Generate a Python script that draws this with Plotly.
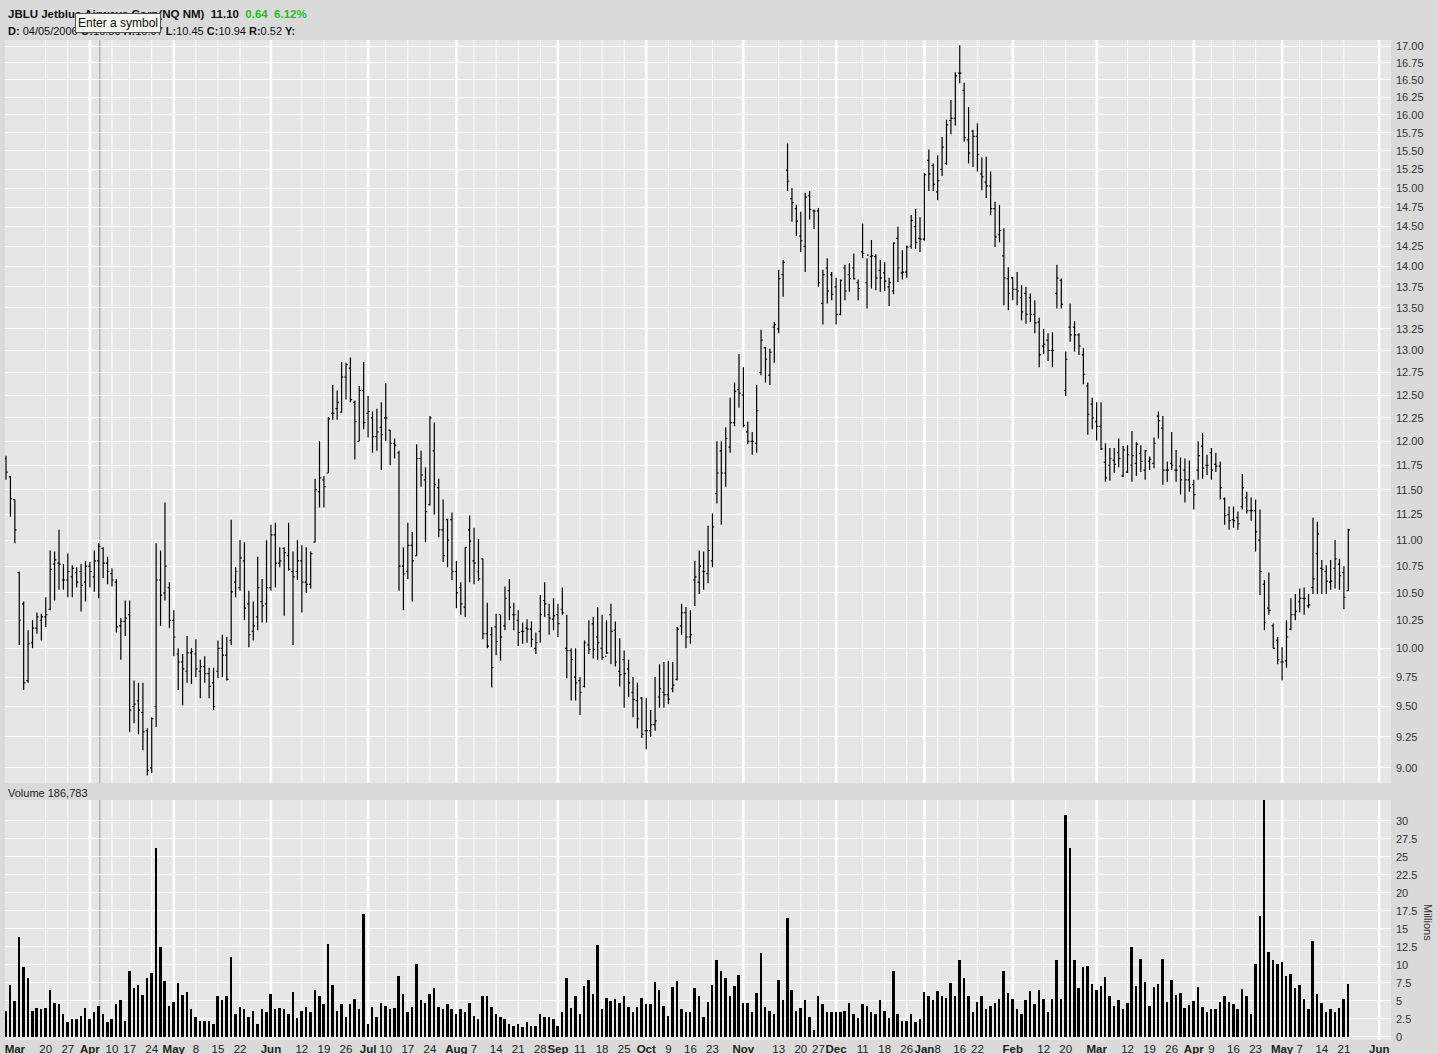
import pandas as pd
import plotly.graph_objects as go

# ---------------- data ----------------
holidays = ["2006-04-14", "2006-05-29", "2006-07-04", "2006-09-04", "2006-11-23",
            "2006-12-25", "2007-01-01", "2007-01-02", "2007-01-15", "2007-02-19",
            "2007-04-06", "2007-05-28"]

open_ = [
    11.82, 11.63, 11.40, 10.69, 10.40, 9.72, 10.05, 10.18, 10.25, 10.28,
    10.35, 10.77, 10.78, 10.62, 10.62, 10.65, 10.69, 10.70, 10.60, 10.75,
    10.65, 10.80, 10.92, 10.78, 10.68, 10.60, 10.20, 10.24, 10.30, 9.50,
    9.55, 9.45, 9.30, 9.00, 9.50, 10.62, 10.50, 10.55, 10.25, 9.95,
    9.88, 9.80, 9.96, 9.95, 9.80, 9.84, 9.78, 9.70, 9.80, 10.00,
    9.94, 10.07, 10.60, 10.55, 10.80, 10.40, 10.15, 10.28, 10.42, 10.40,
    10.55, 11.05, 10.78, 10.92, 10.85, 10.70, 10.70, 10.80, 10.60, 10.58,
    10.98, 11.48, 11.60, 11.67, 12.30, 12.35, 12.31, 12.70, 12.80, 12.42,
    12.00, 12.55, 12.30, 12.25, 12.05, 12.15, 12.25, 12.12, 11.98, 11.88,
    10.75, 10.70, 10.95, 10.85, 11.82, 11.60, 11.35, 11.90, 11.52, 11.10,
    11.20, 11.20, 10.70, 10.55, 10.37, 11.10, 10.80, 10.70, 10.82, 10.13,
    10.12, 10.19, 10.30, 10.20, 10.52, 10.30, 10.25, 10.15, 10.18, 10.17,
    10.00, 10.15, 10.43, 10.30, 10.26, 10.30, 10.35, 10.00, 9.98, 9.75,
    9.72, 9.67, 10.03, 10.22, 10.10, 10.00, 9.93, 10.30, 10.16, 9.80,
    9.90, 9.82, 9.62, 9.55, 9.57, 9.30, 9.30, 9.35, 9.58, 9.62,
    9.60, 9.65, 9.73, 10.20, 10.32, 10.10, 10.62, 10.60, 10.70, 10.68,
    10.80, 11.46, 11.90, 11.67, 11.94, 12.20, 12.56, 12.50, 12.10, 12.00,
    11.98, 12.75, 13.03, 12.72, 13.27, 13.25, 13.90, 15.24, 14.86, 14.73,
    14.38, 14.25, 14.90, 14.70, 14.70, 13.55, 13.98, 13.90, 13.75, 13.42,
    13.98, 13.90, 13.98, 13.80, 14.18, 13.80, 14.12, 14.12, 13.95, 13.92,
    13.75, 13.70, 14.35, 13.92, 13.93, 14.25, 14.50, 14.35, 14.34, 15.37,
    15.30, 14.95, 15.25, 15.33, 15.92, 15.95, 16.60, 16.35, 15.65, 15.77,
    15.70, 15.19, 15.08, 15.03, 14.73, 14.40, 14.13, 13.85, 13.86, 13.72,
    13.62, 13.67, 13.62, 13.42, 13.33, 13.05, 13.12, 13.00, 13.67, 13.83,
    12.55, 13.27, 13.27, 13.18, 12.95, 12.60, 12.40, 12.21, 12.16, 11.78,
    11.75, 11.80, 11.88, 11.64, 11.68, 11.75, 11.77, 11.87, 11.70, 11.79,
    11.77, 12.27, 12.14, 11.70, 11.77, 11.70, 11.74, 11.70, 11.60, 11.55,
    11.70, 11.95, 11.75, 11.88, 11.76, 11.74, 11.41, 11.25, 11.20, 11.22,
    11.33, 11.42, 11.29, 11.29, 11.00, 10.58, 10.36, 10.20, 10.07, 9.88,
    9.89, 10.17, 10.30, 10.42, 10.45, 10.38, 10.55, 10.87, 10.73, 10.70,
    10.60, 10.73, 10.77, 10.69, 10.52]

high = [
    11.85, 11.64, 11.40, 10.70, 10.42, 10.16, 10.25, 10.32, 10.31, 10.46,
    10.90, 10.89, 11.10, 10.77, 10.87, 10.76, 10.74, 10.77, 10.80, 10.79,
    10.90, 10.97, 10.93, 10.84, 10.73, 10.63, 10.27, 10.43, 10.43, 9.72,
    9.70, 9.70, 9.32, 9.41, 10.97, 10.90, 11.37, 10.60, 10.34, 10.00,
    9.95, 10.11, 10.00, 10.08, 9.90, 9.93, 9.83, 9.83, 10.07, 10.12,
    10.10, 11.20, 10.74, 11.00, 10.98, 10.52, 10.42, 10.84, 10.63, 11.00,
    11.15, 11.17, 10.93, 10.93, 11.17, 10.89, 11.00, 10.95, 10.93, 10.89,
    11.61, 12.00, 11.64, 12.26, 12.61, 12.55, 12.87, 12.86, 12.92, 12.44,
    12.60, 12.87, 12.49, 12.32, 12.35, 12.42, 12.63, 12.12, 12.03, 11.90,
    10.93, 11.17, 11.08, 11.97, 11.90, 11.73, 12.27, 12.20, 11.61, 11.40,
    11.21, 11.27, 10.80, 10.60, 10.93, 11.24, 11.12, 11.01, 10.82, 10.41,
    10.19, 10.31, 10.30, 10.56, 10.63, 10.41, 10.34, 10.23, 10.26, 10.24,
    10.14, 10.48, 10.60, 10.40, 10.45, 10.40, 10.55, 10.30, 10.00, 10.00,
    9.75, 10.07, 10.25, 10.28, 10.37, 10.30, 10.25, 10.40, 10.24, 10.09,
    9.98, 9.90, 9.75, 9.70, 9.58, 9.57, 9.47, 9.75, 9.86, 9.88,
    9.89, 9.88, 10.19, 10.40, 10.37, 10.34, 10.80, 10.90, 10.89, 11.14,
    11.26, 12.00, 12.00, 12.15, 12.47, 12.64, 12.96, 12.81, 12.21, 12.10,
    12.61, 13.24, 13.04, 13.02, 13.33, 13.96, 14.08, 15.60, 15.00, 14.78,
    14.69, 14.94, 14.96, 14.72, 14.74, 13.96, 14.10, 13.93, 13.86, 13.84,
    14.02, 14.04, 14.16, 13.84, 14.54, 14.10, 14.33, 14.15, 14.08, 14.05,
    13.86, 14.30, 14.50, 14.20, 14.26, 14.65, 14.73, 14.62, 15.20, 15.52,
    15.33, 15.44, 15.69, 15.93, 16.21, 16.61, 17.01, 16.46, 16.11, 15.79,
    15.88, 15.41, 15.42, 15.22, 14.82, 14.78, 14.48, 13.99, 13.87, 13.93,
    13.77, 13.75, 13.67, 13.59, 13.38, 13.25, 13.20, 13.21, 14.02, 13.85,
    12.99, 13.55, 13.34, 13.20, 13.03, 12.64, 12.47, 12.42, 12.42, 11.98,
    11.93, 11.93, 12.03, 11.95, 11.96, 12.11, 11.99, 11.96, 11.91, 11.84,
    12.04, 12.32, 12.27, 11.79, 12.10, 11.91, 11.83, 11.82, 11.80, 11.60,
    12.00, 12.09, 11.86, 11.93, 11.88, 11.79, 11.42, 11.33, 11.33, 11.28,
    11.66, 11.48, 11.42, 11.40, 11.30, 10.62, 10.69, 10.22, 10.10, 10.01,
    10.25, 10.45, 10.49, 10.54, 10.55, 10.49, 11.22, 11.18, 10.81, 10.76,
    10.81, 11.00, 10.82, 10.75, 11.11]

low = [
    11.60, 11.23, 10.97, 10.03, 9.64, 9.70, 10.00, 10.13, 10.07, 10.19,
    10.34, 10.43, 10.53, 10.53, 10.46, 10.46, 10.55, 10.33, 10.42, 10.55,
    10.51, 10.45, 10.64, 10.58, 10.56, 10.14, 9.90, 10.11, 9.29, 9.36,
    9.27, 9.14, 8.94, 8.96, 9.33, 10.20, 10.43, 10.18, 9.93, 9.64,
    9.51, 9.70, 9.69, 9.75, 9.57, 9.70, 9.57, 9.47, 9.74, 9.75,
    9.72, 10.03, 10.46, 10.52, 10.25, 10.01, 10.07, 10.16, 10.23, 10.23,
    10.52, 10.55, 10.74, 10.29, 10.71, 10.03, 10.62, 10.32, 10.50, 10.54,
    10.98, 11.32, 11.32, 11.67, 12.23, 12.23, 12.31, 12.45, 12.42, 11.81,
    12.00, 12.13, 12.04, 11.88, 11.90, 11.70, 12.00, 11.75, 11.82, 10.52,
    10.34, 10.63, 10.42, 10.85, 11.53, 10.98, 11.34, 11.25, 11.03, 10.79,
    10.74, 10.62, 10.36, 10.30, 10.28, 10.60, 10.58, 10.61, 10.08, 10.00,
    9.66, 9.94, 9.89, 10.16, 10.25, 10.16, 10.02, 10.04, 10.05, 10.01,
    9.95, 10.05, 10.28, 10.12, 10.16, 10.10, 10.30, 9.74, 9.55, 9.55,
    9.43, 9.66, 9.95, 9.91, 9.90, 9.90, 9.95, 9.86, 9.84, 9.67,
    9.49, 9.58, 9.41, 9.32, 9.24, 9.15, 9.25, 9.30, 9.49, 9.49,
    9.52, 9.62, 9.72, 10.12, 10.00, 10.04, 10.38, 10.49, 10.53, 10.59,
    10.74, 11.36, 11.15, 11.53, 11.88, 12.16, 12.36, 12.15, 11.97, 11.86,
    11.88, 12.72, 12.64, 12.61, 12.86, 13.20, 13.63, 14.96, 14.56, 14.38,
    14.18, 13.93, 14.59, 14.47, 13.75, 13.30, 13.55, 13.59, 13.30, 13.41,
    13.59, 13.69, 13.84, 13.59, 14.10, 13.49, 13.73, 13.71, 13.69, 13.70,
    13.52, 13.66, 13.81, 13.84, 13.86, 14.22, 14.22, 14.18, 14.32, 14.96,
    14.96, 14.84, 15.16, 15.31, 15.73, 15.85, 16.45, 15.63, 15.33, 15.28,
    15.22, 14.97, 14.87, 14.65, 14.24, 14.30, 13.53, 13.47, 13.59, 13.53,
    13.35, 13.31, 13.33, 13.20, 12.81, 12.96, 12.88, 12.81, 13.49, 13.49,
    12.49, 13.10, 12.99, 12.95, 12.62, 12.07, 12.13, 12.01, 11.91, 11.58,
    11.59, 11.67, 11.73, 11.63, 11.67, 11.58, 11.64, 11.68, 11.60, 11.70,
    11.72, 12.03, 11.55, 11.58, 11.70, 11.58, 11.45, 11.37, 11.48, 11.30,
    11.60, 11.61, 11.65, 11.60, 11.68, 11.40, 11.15, 11.10, 11.12, 11.10,
    11.30, 11.26, 11.19, 10.89, 10.48, 10.16, 10.30, 10.00, 9.86, 9.72,
    9.83, 10.16, 10.25, 10.32, 10.30, 10.36, 10.49, 10.49, 10.49, 10.49,
    10.53, 10.54, 10.53, 10.35, 10.52]

close = [
    11.68, 11.41, 11.10, 10.25, 9.70, 10.04, 10.18, 10.28, 10.28, 10.30,
    10.72, 10.81, 10.77, 10.62, 10.70, 10.73, 10.60, 10.57, 10.75, 10.70,
    10.80, 10.94, 10.78, 10.70, 10.62, 10.19, 10.24, 10.27, 9.47, 9.52,
    9.47, 9.29, 8.98, 9.40, 10.62, 10.48, 10.75, 10.25, 10.10, 9.88,
    9.82, 9.96, 9.97, 9.82, 9.84, 9.78, 9.67, 9.50, 10.00, 9.94,
    9.73, 10.51, 10.70, 10.83, 10.36, 10.12, 10.20, 10.55, 10.38, 10.55,
    11.05, 10.78, 10.80, 10.88, 10.72, 10.65, 10.80, 10.60, 10.58, 10.87,
    11.50, 11.62, 11.53, 12.24, 12.30, 12.42, 12.70, 12.84, 12.45, 12.21,
    12.55, 12.20, 12.32, 12.05, 12.10, 12.07, 12.25, 11.98, 11.96, 10.75,
    10.68, 10.95, 10.80, 11.82, 11.65, 11.28, 12.25, 11.55, 11.10, 10.85,
    11.00, 10.70, 10.50, 10.40, 10.93, 10.99, 10.78, 10.63, 10.13, 10.02,
    9.83, 10.06, 10.10, 10.45, 10.37, 10.30, 10.14, 10.15, 10.17, 10.08,
    10.05, 10.30, 10.40, 10.27, 10.29, 10.22, 10.32, 9.98, 9.90, 9.70,
    9.62, 10.05, 9.99, 9.99, 10.05, 9.92, 9.96, 10.15, 9.88, 9.77,
    9.78, 9.70, 9.56, 9.40, 9.27, 9.30, 9.35, 9.38, 9.65, 9.60,
    9.56, 9.68, 10.17, 10.32, 10.10, 10.12, 10.65, 10.75, 10.70, 10.90,
    11.13, 11.67, 11.67, 12.03, 12.20, 12.54, 12.52, 12.17, 12.00, 12.00,
    12.33, 13.12, 12.90, 12.98, 13.30, 13.85, 14.05, 15.09, 14.81, 14.57,
    14.32, 14.88, 14.72, 14.70, 13.80, 13.90, 13.70, 13.66, 13.42, 13.83,
    13.70, 13.85, 13.85, 13.73, 14.16, 14.14, 14.13, 13.86, 13.86, 13.82,
    13.80, 14.29, 13.98, 13.93, 14.24, 14.58, 14.30, 14.34, 15.18, 15.19,
    15.05, 15.10, 15.55, 15.86, 15.95, 16.56, 16.60, 15.68, 15.47, 15.70,
    15.45, 15.15, 15.03, 14.73, 14.37, 14.45, 13.86, 13.67, 13.72, 13.70,
    13.45, 13.42, 13.42, 13.32, 12.95, 13.07, 13.00, 13.00, 13.86, 13.54,
    12.90, 13.18, 13.18, 13.05, 12.73, 12.29, 12.25, 12.16, 11.92, 11.62,
    11.82, 11.76, 11.82, 11.91, 11.86, 11.85, 11.97, 11.79, 11.90, 11.81,
    11.98, 12.22, 11.70, 11.70, 11.75, 11.70, 11.60, 11.60, 11.52, 11.45,
    11.85, 11.72, 11.75, 11.70, 11.74, 11.52, 11.24, 11.19, 11.19, 11.16,
    11.52, 11.29, 11.29, 11.08, 10.70, 10.23, 10.34, 10.00, 9.90, 9.88,
    10.10, 10.30, 10.33, 10.45, 10.45, 10.39, 10.63, 11.06, 10.72, 10.61,
    10.61, 10.82, 10.66, 10.46, 11.10]

volume_m = [
    3.6, 7.2, 5.0, 13.8, 9.7, 8.1, 3.6, 4.0, 3.9, 4.0,
    6.5, 4.7, 4.5, 3.1, 2.0, 2.5, 2.4, 2.9, 4.0, 2.4,
    3.5, 4.3, 3.1, 2.0, 2.4, 4.6, 5.1, 2.2, 9.2, 6.8,
    7.2, 5.8, 8.1, 8.9, 26.2, 12.5, 7.8, 4.3, 4.8, 7.5,
    5.8, 6.2, 3.8, 2.8, 2.2, 2.2, 2.2, 1.8, 5.7, 5.1,
    5.7, 11.1, 3.2, 4.2, 3.8, 2.8, 3.6, 1.8, 3.9, 3.4,
    6.0, 3.9, 4.0, 3.9, 3.1, 6.2, 2.6, 3.6, 4.2, 3.4,
    6.5, 5.7, 4.6, 12.9, 7.2, 3.6, 4.6, 2.8, 4.5, 5.2,
    3.8, 17.1, 1.8, 4.2, 2.8, 4.7, 4.3, 3.8, 4.0, 8.5,
    6.0, 3.5, 4.2, 10.1, 5.1, 4.7, 6.0, 6.8, 4.2, 3.8,
    4.5, 3.9, 3.1, 3.9, 3.4, 4.7, 2.9, 2.5, 5.6, 5.6,
    4.2, 3.1, 2.8, 2.5, 1.8, 1.5, 1.8, 1.3, 2.0, 1.5,
    1.5, 3.1, 2.8, 2.8, 2.4, 1.5, 3.4, 8.1, 4.0, 5.6,
    3.2, 7.1, 7.9, 6.0, 12.8, 3.8, 5.4, 5.0, 5.3, 4.7,
    5.7, 4.2, 3.5, 4.2, 5.4, 4.6, 4.6, 7.6, 6.5, 4.3,
    2.9, 6.9, 7.8, 3.8, 3.5, 3.4, 6.8, 5.6, 2.8, 4.8,
    7.2, 10.6, 9.1, 8.1, 5.6, 7.1, 8.6, 4.7, 4.7, 3.5,
    6.1, 11.7, 4.2, 3.6, 3.1, 7.9, 5.1, 16.5, 6.5, 3.6,
    4.0, 5.1, 2.8, 1.0, 5.7, 4.6, 3.4, 3.5, 3.5, 3.4,
    3.6, 4.7, 3.1, 2.6, 4.5, 4.3, 3.5, 3.1, 5.1, 3.6,
    2.6, 9.2, 3.1, 2.2, 2.2, 3.2, 2.0, 2.5, 6.2, 5.7,
    5.1, 6.4, 5.7, 5.4, 7.5, 5.7, 10.6, 8.1, 5.6, 3.4,
    4.8, 5.6, 3.8, 4.3, 4.7, 5.3, 9.2, 6.1, 5.3, 3.9,
    3.1, 5.1, 6.4, 4.6, 6.5, 5.3, 3.5, 5.3, 10.7, 5.3,
    30.8, 26.3, 10.7, 6.8, 9.7, 9.9, 7.4, 6.5, 7.1, 8.3,
    5.7, 4.3, 5.1, 3.8, 4.7, 12.5, 7.1, 10.8, 7.6, 4.3,
    6.9, 7.3, 10.8, 4.8, 7.9, 5.8, 6.1, 4.0, 4.4, 5.0,
    6.9, 4.2, 3.4, 3.8, 3.8, 4.8, 5.7, 4.8, 4.6, 3.9,
    6.7, 5.7, 3.1, 10.1, 16.8, 33.0, 11.8, 10.7, 10.1, 10.4,
    8.5, 8.7, 6.8, 7.2, 5.3, 3.9, 13.3, 6.0, 4.7, 3.5,
    3.8, 3.4, 4.0, 5.3, 7.3]

week_ticks = [("2006-03-20", "20"), ("2006-03-27", "27"), ("2006-04-10", "10"),
              ("2006-04-17", "17"), ("2006-04-24", "24"), ("2006-05-08", "8"),
              ("2006-05-15", "15"), ("2006-05-22", "22"), ("2006-06-12", "12"),
              ("2006-06-19", "19"), ("2006-06-26", "26"), ("2006-07-10", "10"),
              ("2006-07-17", "17"), ("2006-07-24", "24"), ("2006-08-07", "7"),
              ("2006-08-14", "14"), ("2006-08-21", "21"), ("2006-08-28", "28"),
              ("2006-09-11", "11"), ("2006-09-18", "18"), ("2006-09-25", "25"),
              ("2006-10-09", "9"), ("2006-10-16", "16"), ("2006-10-23", "23"),
              ("2006-11-13", "13"), ("2006-11-20", "20"), ("2006-11-27", "27"),
              ("2006-12-11", "11"), ("2006-12-18", "18"), ("2006-12-26", "26"),
              ("2007-01-08", "8"), ("2007-01-16", "16"), ("2007-01-22", "22"),
              ("2007-02-12", "12"), ("2007-02-20", "20"), ("2007-03-12", "12"),
              ("2007-03-19", "19"), ("2007-03-26", "26"), ("2007-04-09", "9"),
              ("2007-04-16", "16"), ("2007-04-23", "23"), ("2007-05-07", "7"),
              ("2007-05-14", "14"), ("2007-05-21", "21")]
month_ticks = [("2006-04-03", "Apr"), ("2006-05-01", "May"), ("2006-06-01", "Jun"),
               ("2006-07-03", "Jul"), ("2006-08-01", "Aug"), ("2006-09-01", "Sep"),
               ("2006-10-02", "Oct"), ("2006-11-01", "Nov"), ("2006-12-01", "Dec"),
               ("2007-01-03", "Jan"), ("2007-02-01", "Feb"), ("2007-03-01", "Mar"),
               ("2007-04-02", "Apr"), ("2007-05-01", "May"), ("2007-06-01", "Jun")]
first_label = ("2006-03-09", "Mar")

price_ticks = [9.00 + 0.25 * k for k in range(33)]
volume_ticks = [0, 2.5, 5, 7.5, 10, 12.5, 15, 17.5, 20, 22.5, 25, 27.5, 30]
volume_tick_text = ["0", "2.5", "5", "7.5", "10", "12.5", "15", "17.5", "20",
                    "22.5", "25", "27.5", "30"]

# ---------------- calendar (trading-day positions) ----------------
bdays = pd.bdate_range("2006-03-07", "2007-06-08")
all_dates = [d.strftime("%Y-%m-%d") for d in bdays if d.strftime("%Y-%m-%d") not in holidays]
pos = {d: i for i, d in enumerate(all_dates)}
n = min(len(open_), len(high), len(low), len(close))
idx = list(range(n))
trade_dates = all_dates[:n]
nv = min(n, len(volume_m))

W, H = 1438, 1054
def px_x(p):
    return p / W
def px_y(p):
    return (H - p) / H

price_dom = [px_y(783), px_y(40)]
vol_dom = [px_y(1040), px_y(800)]
x_dom = [px_x(5), px_x(1391)]
xr = [-0.23, 313.67]

fig = go.Figure()
fig.add_trace(go.Ohlc(
    x=idx, open=open_[:n], high=high[:n], low=low[:n], close=close[:n],
    increasing=dict(line=dict(color="black", width=1.2)),
    decreasing=dict(line=dict(color="black", width=1.2)),
    tickwidth=0.38, xaxis="x", yaxis="y", text=trade_dates, showlegend=False))
fig.add_trace(go.Bar(
    x=idx[:nv], y=volume_m[:nv], marker=dict(color="black", line=dict(width=0)),
    width=0.45, xaxis="x2", yaxis="y2", showlegend=False))

tickvals, ticktext = [], []
tickvals.append(pos[first_label[0]]); ticktext.append("<b>" + first_label[1] + "</b>")
for d, t in week_ticks:
    tickvals.append(pos[d]); ticktext.append(t)
for d, t in month_ticks:
    tickvals.append(pos[d]); ticktext.append("<b>" + t + "</b>")

shapes = []
for d, t in week_ticks:
    for yr in ("y domain", "y2 domain"):
        shapes.append(dict(type="line", xref="x", yref=yr, x0=pos[d], x1=pos[d], y0=0, y1=1,
                           line=dict(color="white", width=1), layer="below"))
for d, t in month_ticks:
    for yr in ("y domain", "y2 domain"):
        shapes.append(dict(type="line", xref="x", yref=yr, x0=pos[d], x1=pos[d], y0=0, y1=1,
                           line=dict(color="white", width=2.5), layer="below"))
# crosshair
for yr in ("y domain", "y2 domain"):
    shapes.append(dict(type="line", xref="x", yref=yr, x0=21.25, x1=21.25, y0=0, y1=1,
                       line=dict(color="#86a8a8", width=1), layer="below"))

FONT = "Liberation Sans, Arial, sans-serif"
ann = []
def add_text(x, y, text, size=11, color="#111", **kw):
    ann.append(dict(xref="paper", yref="paper", x=px_x(x), y=px_y(y), text=text,
                    showarrow=False, xanchor=kw.pop("xanchor", "left"), yanchor="middle",
                    font=dict(family=FONT, size=size, color=color), **kw))

add_text(6, 14, "<b>JBLU Jetblue Airways Corp(NQ NM)</b>  <b>11.10</b>  "
         "<span style='color:#1fbf1f'><b>0.64</b>  <b>6.12%</b></span>", size=11.5)
add_text(6, 31, "<b>D:</b> 04/05/2006 <b>O:</b>10.80 <b>H:</b>10.97 <b>L:</b>10.45 "
         "<b>C:</b>10.94 <b>R:</b>0.52 <b>Y:</b>", size=11)
ann.append(dict(xref="paper", yref="paper", x=px_x(118), y=px_y(22.5), text="Enter a symbol",
                showarrow=False, xanchor="center", yanchor="middle",
                font=dict(family=FONT, size=12, color="#111"),
                bgcolor="#f4f4ef", bordercolor="#555", borderwidth=1, borderpad=2))
add_text(6, 793, "Volume 186,783", size=11, color="#222")
ann.append(dict(xref="paper", yref="paper", x=px_x(1428), y=px_y(922), text="Millions",
                showarrow=False, textangle=90, xanchor="center", yanchor="middle",
                font=dict(family=FONT, size=11, color="#333")))

axis_common = dict(showline=False, zeroline=False, ticks="", automargin=False)
fig.update_layout(
    width=W, height=H,
    margin=dict(l=0, r=0, t=0, b=0),
    paper_bgcolor="#dadada", plot_bgcolor="#e6e6e6",
    showlegend=False, bargap=0,
    xaxis=dict(domain=x_dom, range=xr, anchor="y", showgrid=False, showticklabels=False,
               rangeslider=dict(visible=False), **axis_common),
    xaxis2=dict(domain=x_dom, range=xr, anchor="y2", matches="x", showgrid=False,
                tickmode="array", tickvals=tickvals, ticktext=ticktext,
                tickfont=dict(family=FONT, size=11.5, color="#222"),
                rangeslider=dict(visible=False), **axis_common),
    yaxis=dict(domain=price_dom, type="log", range=[0.94846, 1.23275], side="right",
               anchor="x", tickmode="array", tickvals=price_ticks,
               ticktext=["%.2f" % v for v in price_ticks], ticklabelstandoff=4,
               tickfont=dict(family=FONT, size=11, color="#333"),
               showgrid=True, gridcolor="white", gridwidth=1, **axis_common),
    yaxis2=dict(domain=vol_dom, range=[-0.45, 32.9], side="right", anchor="x2",
                tickmode="array", tickvals=volume_ticks, ticktext=volume_tick_text,
                ticklabelstandoff=4,
                tickfont=dict(family=FONT, size=11, color="#333"),
                showgrid=True, gridcolor="white", gridwidth=1, **axis_common),
    shapes=shapes, annotations=ann,
)

fig.write_html("out.html", config={"displayModeBar": False},
               post_script="document.body.style.margin='0';document.body.style.padding='0';"
                           "document.body.style.overflow='hidden';")
